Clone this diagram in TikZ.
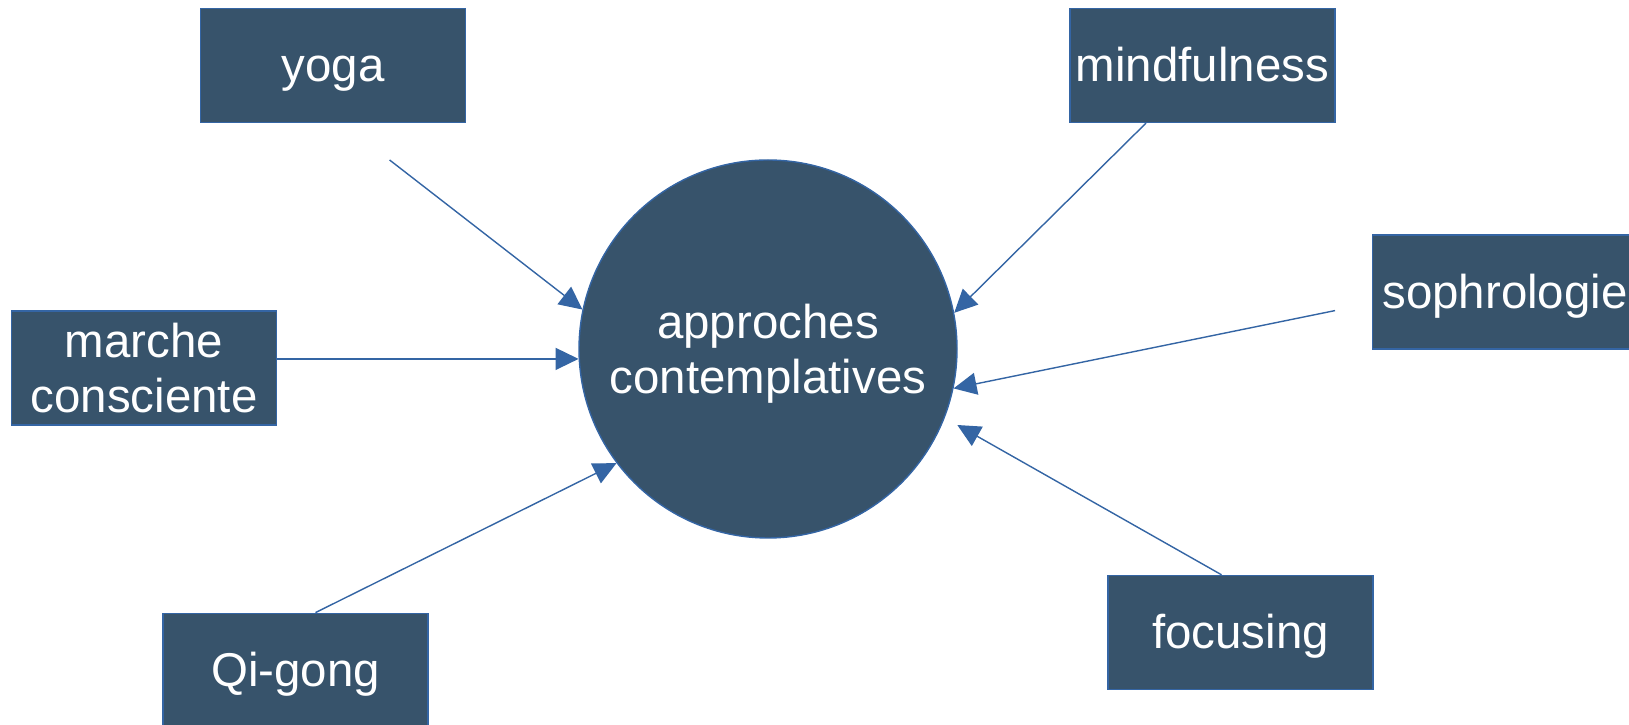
\documentclass[tikz,border=0pt]{standalone}
\usepackage{fontspec}
\setmainfont{Liberation Sans}
\usetikzlibrary{arrows.meta, positioning}

\definecolor{boxblue}{HTML}{37536B}
\definecolor{lineblue}{HTML}{3465A4}

\begin{document}
\begin{tikzpicture}[
  boite/.style={rectangle, fill=boxblue, draw=lineblue, line width=0.4pt, text=white,
    minimum width=2.65cm, minimum height=1.14cm, inner sep=0pt, align=center,
    text depth=0pt, font=\fontsize{13.5}{15.5}\selectfont},
  uneligne/.style={text height=0.93em},
  rond/.style={circle, fill=boxblue, draw=lineblue, line width=0.4pt, text=white,
    minimum size=3.78cm, inner sep=0pt, align=center,
    text depth=0pt, font=\fontsize{13.5}{15.5}\selectfont},
  fleche/.style={-{Triangle[length=2.3mm, width=2.2mm]}, color=lineblue, line width=0.4pt}
]
\useasboundingbox (0,0) rectangle (16.29,7.25);

\node (app) [rond] at (7.68,3.76) {approches\\contemplatives};
\node (yoga) [boite, uneligne] at (3.33,6.596) {yoga};
\node (mindful) [boite, uneligne] at (12.025,6.596) {mindfulness};
\node (sophro) [boite, uneligne] at (15.05,4.33) {sophrologie};
\node (marche) [boite] at (1.44,3.57) {marche\\consciente};
\node (qigong) [boite, uneligne] at (2.955,0.547) {Qi-gong};
\node (focus) [boite, uneligne] at (12.405,0.925) {focusing};

%free ends:
\coordinate (dY) at (3.896,5.65);
\coordinate (dS) at (13.35,4.144);
\coordinate (fF) at (9.573,3.0);

\path [fleche]
(dY) edge (app.168)
(marche.east |- app.183.4) edge (app.183.4)
([xshift=2mm]qigong.north) edge (app.217)
([xshift=-1.9mm]focus.north) edge (fF)
(dS) edge (app.348.8)
([xshift=-5.65mm]mindful.south) edge (app.11.5)
;

\end{tikzpicture}
\end{document}
